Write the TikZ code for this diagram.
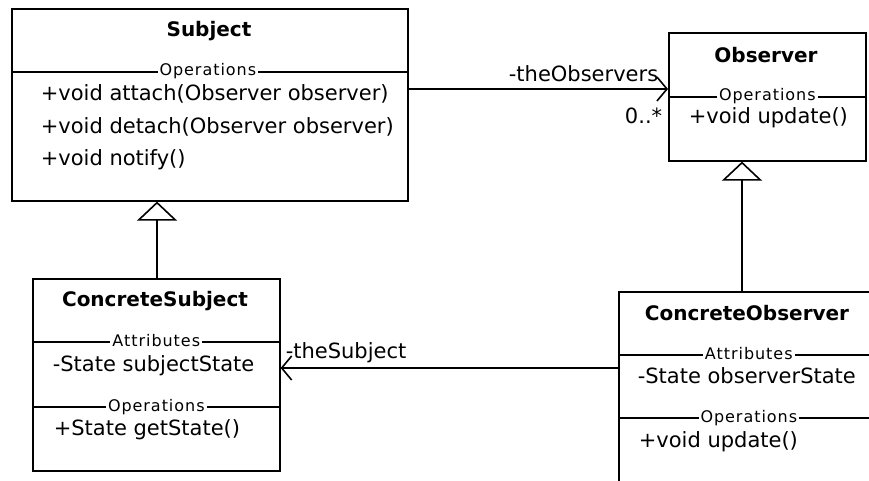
\documentclass[tikz,border=0pt]{standalone}
\usepackage{fontspec}
\setmainfont{DejaVu Sans}
\newfontfamily\lblfont[LetterSpace=6]{DejaVu Sans}
\usetikzlibrary{arrows.meta}
\begin{document}
\begin{tikzpicture}[x=1pt,y=-1pt,line width=1.6pt,
  umlbox/.style={draw,rectangle,anchor=north west,inner sep=0pt},
  titletext/.style={font=\fontsize{20}{24}\selectfont\bfseries,inner sep=0pt},
  itemtext/.style={font=\fontsize{21}{24}\selectfont,inner sep=0pt,text height=15pt,text depth=4pt,anchor=west},
  seplabel/.style={font=\lblfont\fontsize{16}{18}\selectfont,fill=white,inner xsep=2pt,inner ysep=0pt,text height=11pt,text depth=3pt},
  inherit/.style={-{Triangle[open,length=19pt,width=40pt]}},
  assoc/.style={-{Straight Barb[length=10pt,width=24pt]}}]
\fill[white] (0,0) rectangle (869,481);
\clip (0,0) rectangle (869,481);

% Subject
\node[umlbox,minimum width=396pt,minimum height=192pt] (subject) at (11,8) {};
\node[titletext] (subjectT) at (209,31) {Subject};
\draw (subject.west |- 0,72) -- (subject.east |- 0,72) node[seplabel,pos=0.495] (subjectOp) {Operations};
\node[itemtext] (s1) at (40,95) {+void attach(Observer observer)};
\node[itemtext] (s2) at (40,128) {+void detach(Observer observer)};
\node[itemtext] (s3) at (40,160) {+void notify()};

% Observer
\node[umlbox,minimum width=197pt,minimum height=128pt] (observer) at (668,32) {};
\node[titletext] (observerT) at (766,55) {Observer};
\draw (observer.west |- 0,97) -- (observer.east |- 0,97) node[seplabel,pos=0.5] (observerOp) {Operations};
\node[itemtext] (o1) at (688,118) {+void update()};

% ConcreteSubject
\node[umlbox,minimum width=247pt,minimum height=192pt] (csub) at (32,278) {};
\node[titletext] (csubT) at (155,301) {ConcreteSubject};
\draw (csub.west |- 0,342) -- (csub.east |- 0,342) node[seplabel,pos=0.5] (csubAt) {Attributes};
\node[itemtext] (cs1) at (52,366) {-State subjectState};
\draw (csub.west |- 0,407) -- (csub.east |- 0,407) node[seplabel,pos=0.5] (csubOp) {Operations};
\node[itemtext] (cs2) at (53,430) {+State getState()};

% ConcreteObserver
\node[umlbox,minimum width=260pt,minimum height=220pt] (cobs) at (618,291) {};
\node[titletext] (cobsT) at (747,313) {ConcreteObserver};
\draw (cobs.west |- 0,355) -- (cobs.east |- 0,355) node[seplabel,pos=0.5] (cobsAt) {Attributes};
\node[itemtext] (co1) at (637,378) {-State observerState};
\draw (cobs.west |- 0,418) -- (cobs.east |- 0,418) node[seplabel,pos=0.5] (cobsOp) {Operations};
\node[itemtext] (co2) at (638,442) {+void update()};

% generalizations
\draw[inherit] (csub.north -| 157,0) -- (subject.south -| 157,0);
\draw[inherit] (cobs.north -| 742,0) -- (observer.south -| 742,0);

% associations
\draw[assoc] (subject.east |- 0,89) -- (observer.west |- 0,89);
\node[itemtext,anchor=east] (theObs) at (659,76) {-theObservers};
\node[itemtext,anchor=east] (mult) at (663,118) {0..*};
\draw[assoc] (cobs.west |- 0,368) -- (csub.east |- 0,368);
\node[itemtext] (theSub) at (285,353) {-theSubject};
\end{tikzpicture}
\end{document}
